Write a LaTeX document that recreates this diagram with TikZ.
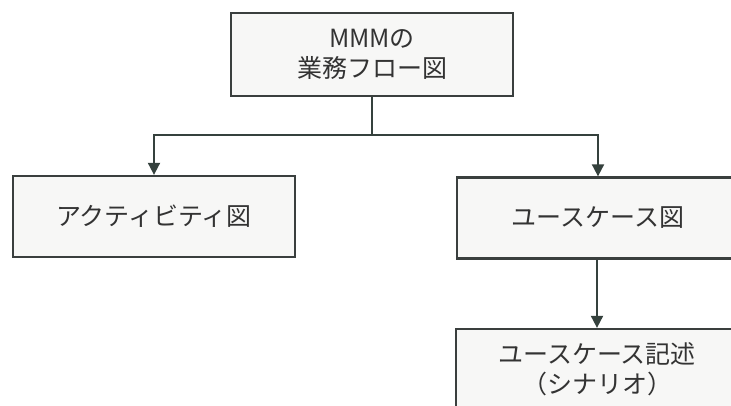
\documentclass[tikz,border=0pt]{standalone}
\usepackage{fontspec}
\setmainfont{Noto Sans CJK JP}
\usetikzlibrary{arrows.meta}
\definecolor{linec}{HTML}{35413D}
\definecolor{boxline}{HTML}{3A3F3E}
\definecolor{boxfill}{HTML}{F7F7F6}
\definecolor{textc}{HTML}{333333}
\tikzset{
  box/.style={draw=boxline, line width=2.3pt, fill=boxfill, minimum width=282pt,
    minimum height=81pt, inner sep=0pt, align=center, text=textc,
    font=\fontsize{25pt}{30pt}\selectfont},
  conn/.style={draw=linec, line width=1.9pt},
  arr/.style={conn, -{Triangle[length=12pt,width=12pt]}}
}
\begin{document}
\begin{tikzpicture}[x=1pt,y=-1pt]
\clip (0,0) rectangle (731,405);
\useasboundingbox (0,0) rectangle (731,405);
\node[box, minimum height=83pt] (top) at (372,54.5) {MMMの\\業務フロー図};
\node[box] (left) at (154,216.5) {アクティビティ図};
\node[box] (right) at (598,218) {ユースケース図};
\node[box] (bottom) at (597,369.5) {ユースケース記述\\（シナリオ）};
\coordinate (j) at (372,135);
\coordinate (jl) at (154,135);
\coordinate (jr) at (598,135);
\draw[conn] (top.south) -- (j);
\draw[arr] (j) -- (jl) -- (left.north);
\draw[arr] (j) -- (jr) -- (right.north);
\draw[arr] (right.south -| bottom.north) -- (bottom.north);
\end{tikzpicture}
\end{document}
